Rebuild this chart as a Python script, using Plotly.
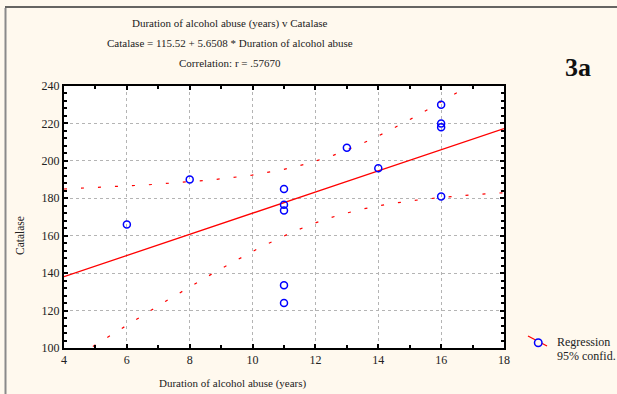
import numpy as np
import plotly.graph_objects as go

# Data
duration = [6, 8, 11, 11, 11, 11, 11, 13, 14, 16, 16, 16, 16]
catalase = [166, 190, 185, 176.5, 173.5, 133.5, 124, 207, 196, 230, 220, 218, 181]
intercept = 115.52
slope = 5.6508
x_ticks = [4, 6, 8, 10, 12, 14, 16, 18]
y_ticks = [100, 120, 140, 160, 180, 200, 220, 240]

W, H = 617, 394
L, R, T, B = 64, 504, 86, 348

x = np.array(duration, float)
y = np.array(catalase, float)
n = len(x)
xs = np.linspace(4, 18, 200)
fit = intercept + slope * xs
res = y - (intercept + slope * x)
s = np.sqrt((res ** 2).sum() / (n - 2))
sxx = ((x - x.mean()) ** 2).sum()
tval = 2.201
hw = tval * s * np.sqrt(1 / n + (xs - x.mean()) ** 2 / sxx)
upper = fit + hw
lower = fit - hw

serif = "Liberation Serif, Times New Roman, serif"
fig = go.Figure()
fig.add_trace(go.Scatter(x=xs, y=upper, mode="lines", line=dict(color="#ff0000", width=1.2, dash="3px,14px"),
                         hoverinfo="skip"))
fig.add_trace(go.Scatter(x=xs, y=lower, mode="lines", line=dict(color="#ff0000", width=1.2, dash="3px,14px"),
                         hoverinfo="skip"))
fig.add_trace(go.Scatter(x=xs, y=fit, mode="lines", line=dict(color="#ff0000", width=1.3)))
fig.add_trace(go.Scatter(x=duration, y=catalase, mode="markers",
                         marker=dict(symbol="circle-open", size=7, color="#0000ff", line=dict(width=1.5))))

axis_common = dict(showline=True, linecolor="black", linewidth=2, mirror="ticks", ticks="inside",
                   ticklen=4, tickwidth=1.5, tickcolor="black",
                   showgrid=True, gridcolor="#b4b4b4", griddash="dot", gridwidth=1, zeroline=False,
                   tickfont=dict(family=serif, size=12, color="#222"))
fig.update_xaxes(range=[4, 18], tickvals=x_ticks, ticktext=[str(v) for v in x_ticks],
                 minor=dict(dtick=1, ticks="inside", ticklen=3, tickcolor="black", showgrid=False),
                 **axis_common)
fig.update_yaxes(range=[100, 240], tickvals=y_ticks, ticktext=[str(v) for v in y_ticks],
                 minor=dict(dtick=4, ticks="inside", ticklen=3, tickcolor="black", showgrid=False),
                 **axis_common)

def px(xp):
    return (xp - L) / (R - L)

def py(yp):
    return (B - yp) / (B - T)

ann = []
titles = ["Duration of alcohol abuse (years) v Catalase",
          "Catalase = 115.52 + 5.6508 * Duration of alcohol abuse",
          "Correlation: r = .57670"]
for i, t in enumerate(titles):
    ann.append(dict(text=t, x=px(230), y=py(23 + 20 * i), xref="paper", yref="paper",
                    showarrow=False, font=dict(family=serif, size=11, color="#222"),
                    xanchor="center", yanchor="middle"))
ann.append(dict(text="<b>3a</b>", x=px(578), y=py(67), xref="paper", yref="paper", showarrow=False,
                font=dict(family=serif, size=26, color="#111"), xanchor="center", yanchor="middle"))
ann.append(dict(text="Catalase", x=px(20), y=py(236), xref="paper", yref="paper", showarrow=False,
                textangle=-90, font=dict(family=serif, size=11.5, color="#222"),
                xanchor="center", yanchor="middle"))
ann.append(dict(text="Duration of alcohol abuse (years)", x=px(233), y=py(383), xref="paper", yref="paper",
                showarrow=False, font=dict(family=serif, size=11, color="#222"),
                xanchor="center", yanchor="middle"))
ann.append(dict(text="Regression", x=px(555), y=py(342), xref="paper", yref="paper", showarrow=False,
                font=dict(family=serif, size=12, color="#222"), xanchor="left", yanchor="middle"))
ann.append(dict(text="95% confid.", x=px(555), y=py(356), xref="paper", yref="paper", showarrow=False,
                font=dict(family=serif, size=12, color="#222"), xanchor="left", yanchor="middle"))

shapes = [
    dict(type="line", xref="paper", yref="paper", x0=px(528), y0=py(336), x1=px(547), y1=py(346),
         line=dict(color="#ff0000", width=1.3)),
    dict(type="circle", xref="paper", yref="paper", x0=px(534.5), y0=py(339), x1=px(542), y1=py(346.5),
         line=dict(color="#0000ff", width=1.5), fillcolor="#fff9ee"),
    dict(type="line", xref="paper", yref="paper", x0=px(5.5), y0=py(8), x1=px(5.5), y1=py(400),
         line=dict(color="#8a8a8a", width=2)),
    dict(type="line", xref="paper", yref="paper", x0=px(5), y0=py(7), x1=px(620), y1=py(7),
         line=dict(color="#333333", width=1.5)),
]

fig.update_layout(width=W, height=H, margin=dict(l=L, r=W - R, t=T, b=H - B),
                  paper_bgcolor="#fff9ee", plot_bgcolor="white", showlegend=False,
                  annotations=ann, shapes=shapes)
fig.write_html("out.html", config={"displayModeBar": False},
               post_script="document.body.style.margin='0';document.body.style.overflow='hidden';"
                           "document.body.style.background='#fff9ee';")
